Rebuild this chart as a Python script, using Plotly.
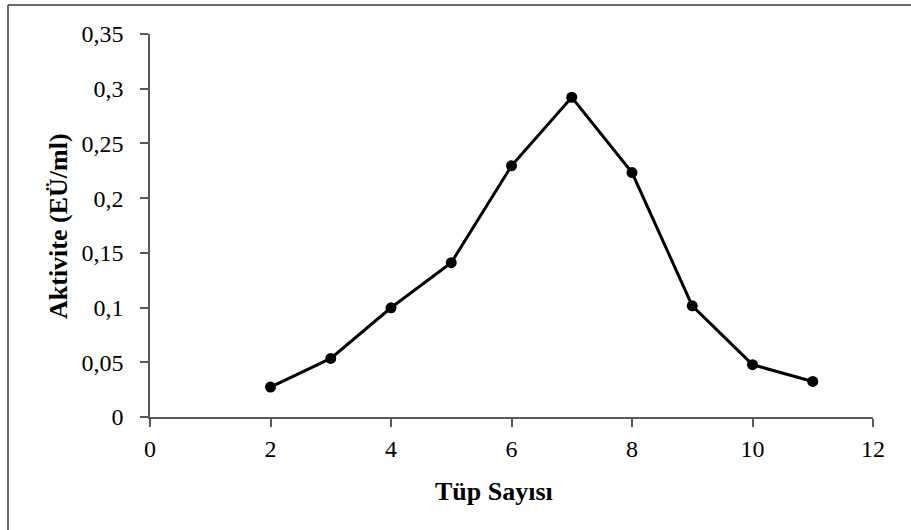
import plotly.graph_objects as go

# Tube number vs enzyme activity
tup_sayisi = [2, 3, 4, 5, 6, 7, 8, 9, 10, 11]
aktivite = [0.0274, 0.0535, 0.0998, 0.141, 0.2295, 0.2922, 0.2234, 0.1016, 0.0478, 0.0325]

x_ticks = [0, 2, 4, 6, 8, 10, 12]
y_ticks = [0, 0.05, 0.1, 0.15, 0.2, 0.25, 0.3, 0.35]
y_tick_text = ["0", "0,05", "0,1", "0,15", "0,2", "0,25", "0,3", "0,35"]

W, H = 911, 530
ML, MR, MT, MB = 150, 38, 34, 113
pw, ph = W - ML - MR, H - MT - MB

def px_x(p):
    return (p - ML) / pw

def px_y(p):
    return (H - MB - p) / ph

font = "Liberation Serif, Times New Roman, serif"
axis_col = "#595959"

fig = go.Figure()
fig.add_trace(go.Scatter(
    x=tup_sayisi, y=aktivite, mode="lines+markers",
    line=dict(color="black", width=3),
    marker=dict(color="black", size=11, symbol="circle"),
    showlegend=False,
))

fig.update_layout(
    width=W, height=H,
    margin=dict(l=ML, r=MR, t=MT, b=MB),
    paper_bgcolor="white", plot_bgcolor="white",
    font=dict(family=font, size=24, color="black"),
    xaxis=dict(
        range=[0, 12], tickvals=x_ticks, ticktext=[str(v) for v in x_ticks],
        showgrid=False, zeroline=False, showline=True, linecolor=axis_col, linewidth=1.5,
        ticks="outside", ticklen=8, tickwidth=1.5, tickcolor=axis_col,
        ticklabelstandoff=1,
        tickfont=dict(family=font, size=24, color="black"),
    ),
    yaxis=dict(
        range=[0, 0.35], tickvals=y_ticks, ticktext=y_tick_text,
        showgrid=False, zeroline=False, showline=True, linecolor=axis_col, linewidth=1.5,
        ticks="outside", ticklen=8, tickwidth=1.5, tickcolor=axis_col,
        ticklabelstandoff=12,
        tickfont=dict(family=font, size=24, color="black"),
    ),
    annotations=[
        dict(text="<b>Tüp Sayısı</b>", xref="paper", yref="paper",
             x=px_x(494), y=px_y(491), xanchor="center", yanchor="middle",
             showarrow=False, font=dict(family=font, size=26, color="black")),
        dict(text="<b>Aktivite (EÜ/ml)</b>", xref="paper", yref="paper",
             x=px_x(58), y=px_y(226), xanchor="center", yanchor="middle",
             textangle=-90, showarrow=False,
             font=dict(family=font, size=26, color="black")),
    ],
    shapes=[
        dict(type="line", xref="paper", yref="paper",
             x0=px_x(8), x1=px_x(W + 5), y0=px_y(5), y1=px_y(5),
             line=dict(color="#3a3a3a", width=1.5)),
        dict(type="line", xref="paper", yref="paper",
             x0=px_x(8), x1=px_x(8), y0=px_y(5), y1=px_y(H + 5),
             line=dict(color="#3a3a3a", width=1.5)),
    ],
)

fig.write_html("out.html")
